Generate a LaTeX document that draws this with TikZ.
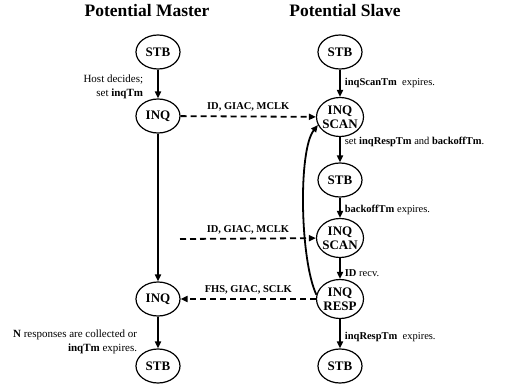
\documentclass[tikz,border=0pt]{standalone}
\usepackage{fontspec}
\setmainfont{Liberation Serif}
\usetikzlibrary{shapes.geometric,arrows.meta,positioning}
\tikzset{
  state/.style={ellipse,draw,line width=1.2pt,inner sep=-2pt,minimum width=44pt,minimum height=34pt,
    align=center,font=\bfseries\fontsize{13}{14}\selectfont},
  state2/.style={state,minimum width=47pt,minimum height=39pt},
  trans/.style={line width=1.8pt,-{Triangle[length=7pt,width=6pt]}},
  msg/.style={trans,dash pattern=on 6pt off 4pt},
  lbl/.style={font=\fontsize{10.5}{12}\selectfont,inner sep=4pt},
  mlbl/.style={font=\fontsize{11}{13.5}\selectfont,inner sep=4pt,align=right},
  title/.style={font=\bfseries\fontsize{17.5}{20}\selectfont}
}

\begin{document}
\begin{tikzpicture}[x=1pt,y=-1pt]
  \useasboundingbox (0,0) rectangle (505,390);
  \node[title] (mtitle) at (147,11) {Potential Master};
  \node[title] (stitle) at (345,11) {Potential Slave};
  % master side
  \node[state] (mstb1) at (158,52) {STB};
  \node[state] (minq1) at (158,116) {INQ};
  \node[state] (minq2) at (158,299) {INQ};
  \node[state] (mstb2) at (158,366) {STB};
  \coordinate (mfree) at (180,239);
  % slave side
  \node[state] (sstb1) at (340,52) {STB};
  \node[state2] (sscan1) at (340,117) {INQ\\SCAN};
  \node[state] (sstb2) at (340,180) {STB};
  \node[state2] (sscan2) at (340,238) {INQ\\SCAN};
  \node[state2] (sresp) at (340,299) {INQ\\RESP};
  \node[state] (sstb3) at (340,366) {STB};
  % transitions
  \draw[trans] (mstb1) -- node[mlbl,left,pos=0.6,xshift=-10pt]{Host decides;\\set \textbf{inqTm}} (minq1);
  \draw[trans] (minq1) -- (minq2);
  \draw[trans] (minq2) -- node[mlbl,left,pos=0.8,xshift=-16pt]{\textbf{N} responses are collected or\\\textbf{inqTm} expires.} (mstb2);
  \draw[trans] (sstb1) -- node[lbl,right]{\textbf{inqScanTm}\ \ expires.} (sscan1);
  \draw[trans] (sscan1) -- node[lbl,right,pos=0.2]{set \textbf{inqRespTm} and \textbf{backoffTm}.} (sstb2);
  \draw[trans] (sstb2) -- node[lbl,right,pos=0.6]{\textbf{backoffTm} expires.} (sscan2);
  \draw[trans] (sscan2) -- node[lbl,right,pos=0.7]{\textbf{ID} recv.} (sresp);
  \draw[trans] (sresp) -- node[lbl,right,pos=0.6]{\textbf{inqRespTm}\ \ expires.} (sstb3);
  \draw[trans] (sresp.170) .. controls (300,260) and (298,150) .. (sscan1.200);
  % messages
  \draw[msg] (minq1) -- node[lbl,above,font=\bfseries\fontsize{10.5}{12}\selectfont]{ID, GIAC, MCLK} (sscan1);
  \draw[msg] (mfree) -- node[lbl,above,font=\bfseries\fontsize{10.5}{12}\selectfont]{ID, GIAC, MCLK} (sscan2);
  \draw[msg] (sresp) -- node[lbl,above,font=\bfseries\fontsize{10.5}{12}\selectfont]{FHS, GIAC, SCLK} (minq2);
\end{tikzpicture}
\end{document}
